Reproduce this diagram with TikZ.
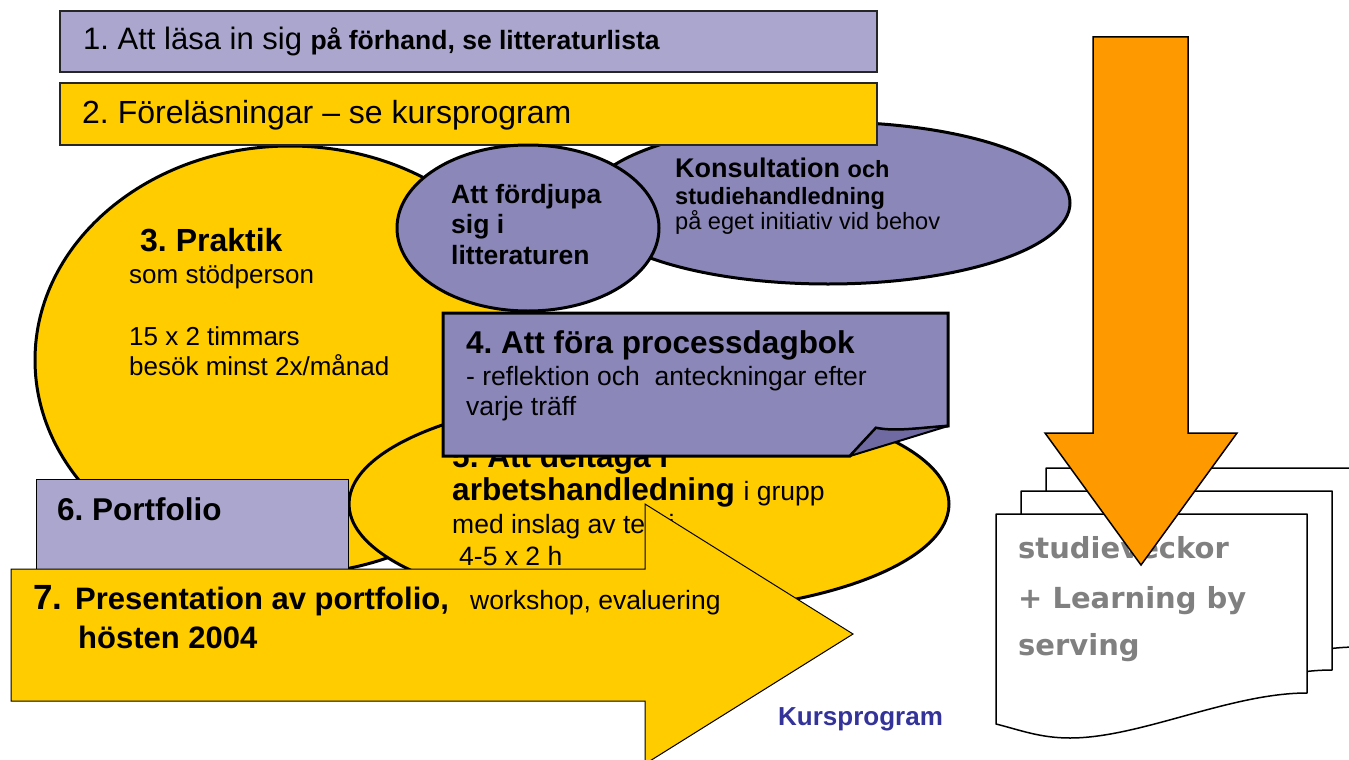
\documentclass[tikz,border=0pt]{standalone}
\usepackage{fontspec}
\setmainfont{Liberation Sans}
\newfontfamily\docfont{DejaVu Sans}
\frenchspacing
\newcommand\fsz[1]{\fontsize{#1}{#1}\selectfont}
\definecolor{yel}{RGB}{255,204,0}
\definecolor{lav}{RGB}{170,166,206}
\definecolor{purp}{RGB}{140,135,185}
\definecolor{purpdark}{RGB}{112,106,162}
\definecolor{orng}{RGB}{255,153,0}
\definecolor{kblue}{RGB}{51,51,153}
\definecolor{docgray}{RGB}{128,128,128}
\tikzset{
  txt/.style={inner sep=0pt, anchor=base west, text=black},
  thickline/.style={draw=black, line width=3pt},
  thinline/.style={draw=black!85, line width=1.5pt},
  hairline/.style={draw=black, line width=1pt},
  pagestyle/.style={draw=black, fill=white, line width=1.5pt, line join=round},
}
\begin{document}
\begin{tikzpicture}[x=1pt,y=-1pt]
\useasboundingbox (0,0) rectangle (1349,760);
\clip (0,0) rectangle (1349,760);
\fill[white] (0,0) rectangle (1349,760);

% Konsultation ellipse
\path[thickline, fill=purp] (828,203) ellipse [x radius=242, y radius=81];
\node[txt, font=\bfseries\fsz{27}] (kons) at (675,177) {Konsultation {\fsz{23.5}och}};
\node[txt, font=\bfseries\fsz{23.6}] (studie) at (675,204) {studiehandledning};
\node[txt, font=\fsz{23.6}] (eget) at (675,229) {på eget initiativ vid behov};

% Praktik ellipse
\path[thickline, fill=yel] (290,360) ellipse [x radius=255, y radius=214];
\node[txt, font=\bfseries\fsz{32}] (prak) at (140,251) {3. Praktik};
\node[txt, font=\fsz{26}] (stod) at (129,283) {som stödperson};
\node[txt, font=\fsz{26}] (tim) at (129,345) {15 x 2 timmars};
\node[txt, font=\fsz{26}] (besok) at (129,375) {besök minst 2x/månad};

% Box 1 and box 2
\path[thinline, fill=lav] (60,11) rectangle (877,72);
\node[txt, font=\fsz{31}] (t1) at (83,50) {1. Att läsa in sig {\bfseries\fsz{26.5}på förhand, se litteraturlista}};
\path[thinline, fill=yel] (60,83) rectangle (877,145);
\node[txt, font=\fsz{32}] (t2) at (82,123) {2. Föreläsningar – se kursprogram};

% Circle: Att fordjupa
\path[thickline, fill=purp] (528,228) ellipse [x radius=131, y radius=83];
\node[txt, font=\bfseries\fsz{26.5}] (f1) at (451,203) {Att fördjupa};
\node[txt, font=\bfseries\fsz{26.5}] (f2) at (451,233) {sig i};
\node[txt, font=\bfseries\fsz{26.5}] (f3) at (451,264) {litteraturen};

% Ellipse 5
\path[thickline, fill=yel] (649,504) ellipse [x radius=300, y radius=109];
\node[txt, font=\bfseries\fsz{31.6}] (e5a) at (452,467) {5. Att deltaga i};
\node[txt, font=\bfseries\fsz{31.6}] (e5b) at (452,500) {arbetshandledning {\mdseries\fsz{26.5}i grupp}};
\node[txt, font=\fsz{26.5}] (e5c) at (452,533) {med inslag av teori};
\node[txt, font=\fsz{26.5}] (e5d) at (459,565) {4-5 x 2 h};

% Box 4 with folded corner
\path[thickline, fill=purp, line join=miter]
  (443,313) -- (948,313) -- (948,426)
  .. controls (920,428) and (895,432) .. (876,428)
  -- (850,456) -- (443,456) -- cycle;
\path[draw=black, line width=2pt, fill=purpdark, line join=round]
  (876,428) .. controls (895,432) and (920,428) .. (948,426)
  -- (850,456) -- cycle;
\node[txt, font=\bfseries\fsz{31.5}] (d1) at (466,353) {4. Att föra processdagbok};
\node[txt, font=\fsz{26.5}] (d2) at (466,385) {- reflektion och\ \ anteckningar efter};
\node[txt, font=\fsz{26.5}] (d3) at (466,415) {varje träff};

% Portfolio box
\path[hairline, fill=lav] (36,479) rectangle (348,600);
\node[txt, font=\bfseries\fsz{31.5}] (p6) at (57,520) {6. Portfolio};

% Arrow 7
\path[hairline, fill=yel, line join=miter]
  (11,569) -- (645,569) -- (645,504) -- (853,634) -- (645,764)
  -- (645,701) -- (11,701) -- cycle;
\node[txt, font=\bfseries\fsz{35}] (s7) at (33,609) {7.};
\node[txt, font=\bfseries\fsz{31}] (s7a) at (75,609) {Presentation av portfolio,};
\node[txt, font=\fsz{26.5}] (s7b) at (470,609) {workshop, evaluering};
\node[txt, font=\bfseries\fsz{31}] (s7c) at (78,648) {hösten 2004};

% Kursprogram
\node[txt, font=\bfseries\fsz{26}, text=kblue] (kp) at (778,725) {Kursprogram};

% Document stack
\newcommand\pagepath{(996,514) -- (1307,514) -- (1307,693)
  .. controls (1230,693) and (1140,738) .. (1070,738)
  .. controls (1040,738) and (1020,730) .. (996,724) -- cycle}
\path[pagestyle, shift={(50,-46)}] \pagepath;
\path[pagestyle, shift={(25,-23)}] \pagepath;
\path[pagestyle] \pagepath;
\node[txt, font=\docfont\bfseries\fsz{29}, text=docgray] (l1) at (1018,558) {studieveckor};
\node[txt, font=\docfont\bfseries\fsz{29}, text=docgray] (l2) at (1018,608) {+ Learning by};
\node[txt, font=\docfont\bfseries\fsz{29}, text=docgray] (l3) at (1018,655) {serving};

% Orange arrow
\path[draw=black, line width=1.5pt, fill=orng, line join=miter]
  (1093,37) -- (1188,37) -- (1188,433) -- (1237,433) -- (1141,565)
  -- (1045,433) -- (1093,433) -- cycle;
\end{tikzpicture}
\end{document}
